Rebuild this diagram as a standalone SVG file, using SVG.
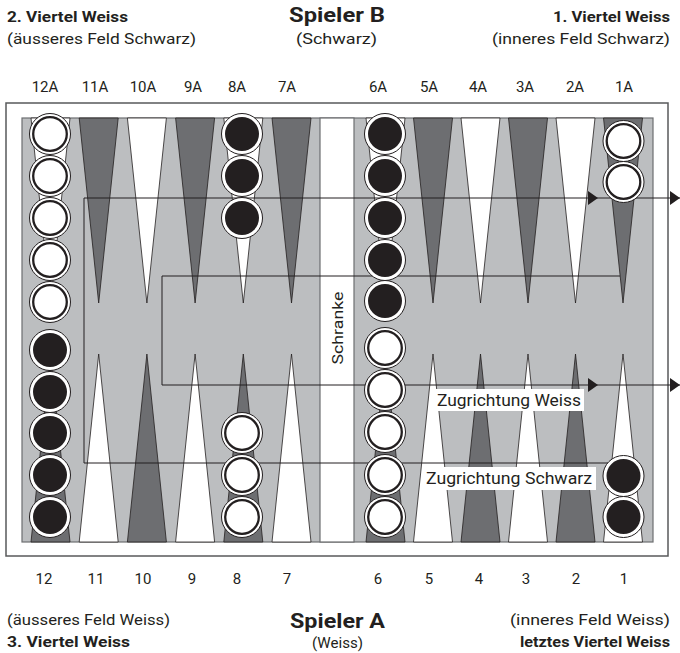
<svg xmlns="http://www.w3.org/2000/svg" xmlns:xlink="http://www.w3.org/1999/xlink" width="680" height="653" viewBox="0 0 680 653">
<style>
text{font-family:Roboto,"Liberation Sans",sans-serif;fill:#231f20}
.h{font-weight:bold;font-size:15px}
.s{font-size:15px}
.t{font-weight:bold;font-size:21px}
.n{font-size:15px;text-anchor:middle}
.d{fill:#6d6e71;stroke:#231f20;stroke-width:0.8}
.w{fill:#ffffff;stroke:#231f20;stroke-width:0.8}
.lbl{fill:#ffffff}
</style>
<defs>
<marker id="arr" viewBox="0 0 10 14" refX="10" refY="7" markerWidth="10" markerHeight="14" markerUnits="userSpaceOnUse" orient="auto">
<path d="M0,0 L10,7 L0,14 Z" fill="#231f20"/>
</marker>
<g id="wc"><circle r="20.5" fill="#fff" stroke="#231f20" stroke-width="1"/><circle r="16.8" fill="#fff" stroke="#231f20" stroke-width="2.3"/></g>
<g id="bc"><circle r="20.5" fill="#fff" stroke="#231f20" stroke-width="1"/><circle r="17" fill="#231f20"/></g>
</defs>

<g id="headings">
<text class="h" x="7" y="22" textLength="121" lengthAdjust="spacingAndGlyphs">2. Viertel Weiss</text>
<text class="s" x="7" y="44" textLength="189" lengthAdjust="spacingAndGlyphs">(äusseres Feld Schwarz)</text>
<text class="t" x="289" y="22" textLength="96" lengthAdjust="spacingAndGlyphs">Spieler B</text>
<text class="s" x="296" y="44" textLength="81" lengthAdjust="spacingAndGlyphs">(Schwarz)</text>
<text class="h" x="670" y="22" text-anchor="end" textLength="117" lengthAdjust="spacingAndGlyphs">1. Viertel Weiss</text>
<text class="s" x="670" y="44" text-anchor="end" textLength="178" lengthAdjust="spacingAndGlyphs">(inneres Feld Schwarz)</text>
<text class="s" x="7" y="625" textLength="163" lengthAdjust="spacingAndGlyphs">(äusseres Feld Weiss)</text>
<text class="h" x="7" y="647" textLength="123" lengthAdjust="spacingAndGlyphs">3. Viertel Weiss</text>
<text class="t" x="290" y="628" textLength="95" lengthAdjust="spacingAndGlyphs">Spieler A</text>
<text class="s" x="312" y="648" textLength="51" lengthAdjust="spacingAndGlyphs">(Weiss)</text>
<text class="s" x="670" y="625" text-anchor="end" textLength="160" lengthAdjust="spacingAndGlyphs">(inneres Feld Weiss)</text>
<text class="h" x="670" y="647" text-anchor="end" textLength="150" lengthAdjust="spacingAndGlyphs">letztes Viertel Weiss</text>
</g>

<g id="point-labels-top">
<text class="n" x="45" y="92">12A</text>
<text class="n" x="95" y="92">11A</text>
<text class="n" x="143" y="92">10A</text>
<text class="n" x="193" y="92">9A</text>
<text class="n" x="237" y="92">8A</text>
<text class="n" x="287" y="92">7A</text>
<text class="n" x="378" y="92">6A</text>
<text class="n" x="429" y="92">5A</text>
<text class="n" x="478" y="92">4A</text>
<text class="n" x="525" y="92">3A</text>
<text class="n" x="575" y="92">2A</text>
<text class="n" x="624" y="92">1A</text>
</g>
<g id="point-labels-bottom">
<text class="n" x="44" y="584">12</text>
<text class="n" x="96" y="584">11</text>
<text class="n" x="143" y="584">10</text>
<text class="n" x="192" y="584">9</text>
<text class="n" x="237" y="584">8</text>
<text class="n" x="287" y="584">7</text>
<text class="n" x="378" y="584">6</text>
<text class="n" x="429" y="584">5</text>
<text class="n" x="479" y="584">4</text>
<text class="n" x="526" y="584">3</text>
<text class="n" x="576" y="584">2</text>
<text class="n" x="624" y="584">1</text>
</g>

<g id="board">
<rect x="6" y="103" width="662" height="453" fill="#ffffff" stroke="#58595b" stroke-width="1.5"/>
<rect x="22" y="118" width="631" height="424" fill="#bcbec0" stroke="#6d6e71" stroke-width="1.2"/>
</g>

<g id="points-top">
<polygon class="w" points="31,118 70,118 50.5,303"/>
<polygon class="d" points="79.2,118 118.2,118 98.7,303"/>
<polygon class="w" points="127.4,118 166.4,118 146.9,303"/>
<polygon class="d" points="175.6,118 214.6,118 195.1,303"/>
<polygon class="w" points="223.8,118 262.8,118 243.3,303"/>
<polygon class="d" points="272,118 311,118 291.5,303"/>
<polygon class="w" points="366,118 405,118 385.5,303"/>
<polygon class="d" points="413.5,118 452.5,118 433,303"/>
<polygon class="w" points="461,118 500,118 480.5,303"/>
<polygon class="d" points="508.5,118 547.5,118 528,303"/>
<polygon class="w" points="556,118 595,118 575.5,303"/>
<polygon class="d" points="603.5,118 642.5,118 623,303"/>
</g>
<g id="points-bottom">
<polygon class="d" points="31,542 70,542 50.5,354"/>
<polygon class="w" points="79.2,542 118.2,542 98.7,354"/>
<polygon class="d" points="127.4,542 166.4,542 146.9,354"/>
<polygon class="w" points="175.6,542 214.6,542 195.1,354"/>
<polygon class="d" points="223.8,542 262.8,542 243.3,354"/>
<polygon class="w" points="272,542 311,542 291.5,354"/>
<polygon class="d" points="366,542 405,542 385.5,354"/>
<polygon class="w" points="413.5,542 452.5,542 433,354"/>
<polygon class="d" points="461,542 500,542 480.5,354"/>
<polygon class="w" points="508.5,542 547.5,542 528,354"/>
<polygon class="d" points="556,542 595,542 575.5,354"/>
<polygon class="w" points="603.5,542 642.5,542 623,354"/>
</g>

<g id="bar">
<rect x="320" y="118" width="34" height="424" fill="#ffffff" stroke="#6d6e71" stroke-width="1.2"/>
<text class="s" transform="translate(343,328) rotate(-90)" text-anchor="middle" textLength="73" lengthAdjust="spacingAndGlyphs">Schranke</text>
</g>

<g id="connectors" fill="none" stroke="#231f20" stroke-width="1">
<path d="M623,463 H84 V198 H598" marker-end="url(#arr)"/>
<path d="M598,198 H680" marker-end="url(#arr)"/>
<path d="M620,276 H162 V385 H598" marker-end="url(#arr)"/>
<path d="M598,385 H680" marker-end="url(#arr)"/>
</g>

<g id="label-weiss">
<rect class="lbl" x="434" y="389" width="150" height="22"/>
<text x="437" y="406" font-size="16" textLength="144" lengthAdjust="spacingAndGlyphs">Zugrichtung Weiss</text>
</g>
<g id="label-schwarz">
<rect class="lbl" x="422" y="467" width="174" height="23"/>
<text x="426" y="484" font-size="16" textLength="166" lengthAdjust="spacingAndGlyphs">Zugrichtung Schwarz</text>
</g>

<g id="checkers-12A">
<use xlink:href="#wc" x="50" y="134"/><use xlink:href="#wc" x="50" y="176"/><use xlink:href="#wc" x="50" y="218"/><use xlink:href="#wc" x="50" y="260"/><use xlink:href="#wc" x="50" y="302"/>
</g>
<g id="checkers-12">
<use xlink:href="#bc" x="50" y="350"/><use xlink:href="#bc" x="50" y="392"/><use xlink:href="#bc" x="50" y="433"/><use xlink:href="#bc" x="50" y="475"/><use xlink:href="#bc" x="50" y="517"/>
</g>
<g id="checkers-8A">
<use xlink:href="#bc" x="242" y="134"/><use xlink:href="#bc" x="242" y="176"/><use xlink:href="#bc" x="242" y="218"/>
</g>
<g id="checkers-8">
<use xlink:href="#wc" x="242" y="433"/><use xlink:href="#wc" x="242" y="475"/><use xlink:href="#wc" x="242" y="517"/>
</g>
<g id="checkers-6A">
<use xlink:href="#bc" x="385" y="134"/><use xlink:href="#bc" x="385" y="176"/><use xlink:href="#bc" x="385" y="218"/><use xlink:href="#bc" x="385" y="260"/><use xlink:href="#bc" x="385" y="301"/>
</g>
<g id="checkers-6">
<use xlink:href="#wc" x="385" y="348"/><use xlink:href="#wc" x="385" y="390"/><use xlink:href="#wc" x="385" y="432"/><use xlink:href="#wc" x="385" y="475"/><use xlink:href="#wc" x="385" y="517"/>
</g>
<g id="checkers-1A">
<use xlink:href="#wc" x="623.5" y="141"/><use xlink:href="#wc" x="623.5" y="182"/>
</g>
<g id="checkers-1">
<use xlink:href="#bc" x="623.5" y="476"/><use xlink:href="#bc" x="623.5" y="517"/>
</g>
</svg>
